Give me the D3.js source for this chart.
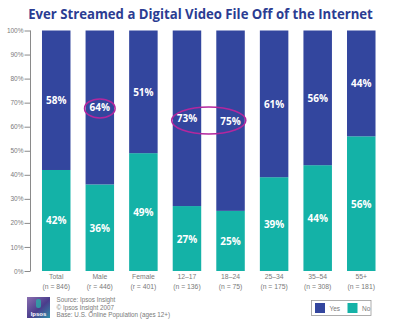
<!DOCTYPE html>
<html><head><meta charset="utf-8">
<script src="https://cdn.jsdelivr.net/npm/d3@7"></script>
<style>
html,body{margin:0;padding:0;background:#fff;}
svg{display:block;}
</style></head>
<body>
<svg id="chart" width="400" height="326"></svg>
<script>
const categories = ["Total","Male","Female","12\u201317","18\u201324","25\u201334","35\u201354","55+"];
const sampleSizes = ["(n = 846)","(r = 446)","(r = 401)","(n = 136)","(n = 75)","(n = 175)","(n = 308)","(n = 181)"];
const yesValues = [58,64,51,73,75,61,56,44];
const noValues  = [42,36,49,27,25,39,44,56];
const yTicks = [0,10,20,30,40,50,60,70,80,90,100];
const highlighted = [["Male"],["12\u201317","18\u201324"]];
const sourceLines = ["Source: Ipsos Insight","\u00a9 Ipsos Insight 2007","Base: U.S. Online Population (ages 12+)"];

const blue = "#33469e", teal = "#14b2a7", magenta = "#b3279e", gray = "#7a7a7a";
const svg = d3.select("#chart");

const x = d3.scaleBand().domain(categories).range([27, 390.5]).paddingInner(0.346).paddingOuter(0.344);
const y = d3.scaleLinear().domain([0,100]).range([271, 30.5]);

const title = svg.append("text").attr("text-anchor","middle")
  .attr("font-family","Open Sans, sans-serif").attr("font-weight","bold").attr("font-size",14.5)
  .attr("fill","#2b3c92")
  .text("Ever Streamed a Digital Video File Off of the Internet");
const tl = title.node().getComputedTextLength();
const sx = Math.min(1, 345 / tl);
title.attr("transform",`translate(200.5,18.5) scale(${sx},1)`);

// axis
const yAxis = d3.axisLeft(y).tickValues(yTicks).tickSize(6).tickPadding(2).tickFormat(d=>d+"%");
const ag = svg.append("g").attr("transform","translate(27.5,0)").call(yAxis);
ag.select(".domain").attr("d",`M3,${y(100)}V${y(0)}`).attr("stroke","#8a8a8a");
ag.selectAll(".tick line").attr("x1",-3).attr("x2",3).attr("stroke","#8a8a8a");
ag.selectAll(".tick text").attr("font-family","Liberation Sans, Arial, sans-serif").attr("font-size",6.5).attr("fill",gray).attr("x",-4);

const data = categories.map((c,i)=>({c, yes:yesValues[i], no:noValues[i], n:sampleSizes[i]}));

// bars
const g = svg.append("g");
g.selectAll("rect.no").data(data).join("rect").attr("class","no")
  .attr("x",d=>x(d.c)).attr("width",x.bandwidth())
  .attr("y",d=>y(d.no)).attr("height",d=>y(0)-y(d.no)).attr("fill",teal);
g.selectAll("rect.yes").data(data).join("rect").attr("class","yes")
  .attr("x",d=>x(d.c)).attr("width",x.bandwidth())
  .attr("y",y(100)).attr("height",d=>y(d.no)-y(100)).attr("fill",blue);

const lab = (sel)=>sel.attr("text-anchor","middle").attr("dominant-baseline","central")
  .attr("font-family","Open Sans, sans-serif").attr("font-weight","bold").attr("font-size",10).attr("fill","#fff");
g.selectAll("text.yes").data(data).join("text").attr("class","yes").call(lab)
  .attr("x",d=>x(d.c)+x.bandwidth()/2).attr("y",d=>(y(100)+y(d.no))/2).text(d=>d.yes+"%");
g.selectAll("text.no").data(data).join("text").attr("class","no").call(lab)
  .attr("x",d=>x(d.c)+x.bandwidth()/2).attr("y",d=>(y(d.no)+y(0))/2).text(d=>d.no+"%");

// highlight ellipses
highlighted.forEach(group=>{
  const ds = data.filter(d=>group.includes(d.c));
  const x0 = x(ds[0].c)-1, x1 = x(ds[ds.length-1].c)+x.bandwidth()+1;
  const cys = ds.map(d=>(y(100)+y(d.no))/2);
  const cy = d3.mean(cys)+1;
  const ry = group.length>1 ? 13.5 : 9.5;
  svg.append("ellipse").attr("cx",(x0+x1)/2).attr("cy",cy).attr("rx",(x1-x0)/2).attr("ry",ry)
    .attr("fill","none").attr("stroke",magenta).attr("stroke-width",1.6);
});

// category labels
const cl = svg.append("g");
data.forEach(d=>{
  const t = cl.append("text").attr("x",x(d.c)+x.bandwidth()/2).attr("text-anchor","middle")
    .attr("font-family","Liberation Sans, Arial, sans-serif").attr("font-size",6.8).attr("fill",gray);
  t.append("tspan").attr("x",x(d.c)+x.bandwidth()/2).attr("y",279).text(d.c);
  t.append("tspan").attr("x",x(d.c)+x.bandwidth()/2).attr("y",288.5).text(d.n);
});

// logo
const defs = svg.append("defs");
const lg = defs.append("linearGradient").attr("id","lg").attr("x1",0).attr("y1",0).attr("x2",1).attr("y2",1);
lg.append("stop").attr("offset","0%").attr("stop-color","#8a6fb0");
lg.append("stop").attr("offset","55%").attr("stop-color","#4a3d8c");
lg.append("stop").attr("offset","100%").attr("stop-color","#2f8fa8");
svg.append("rect").attr("x",27).attr("y",297).attr("width",23).attr("height",21).attr("fill","url(#lg)");
svg.append("rect").attr("x",36).attr("y",299).attr("width",5).attr("height",9).attr("rx",2).attr("fill","#2aa9a8").attr("opacity",0.8);
svg.append("text").attr("x",38.5).attr("y",316).attr("text-anchor","middle").attr("font-family","Liberation Sans, Arial, sans-serif")
  .attr("font-size",6).attr("font-weight","bold").attr("fill","#fff").text("Ipsos");

sourceLines.forEach((s,i)=>{
  svg.append("text").attr("x",56.5).attr("y",302+i*7.5).attr("font-family","Liberation Sans, Arial, sans-serif")
    .attr("font-size",6.3).attr("fill",gray).text(s);
});

// legend
const leg = svg.append("g");
leg.append("rect").attr("x",311.5).attr("y",300.5).attr("width",59.5).attr("height",15).attr("fill","#fff").attr("stroke","#999").attr("stroke-width",0.8);
[["Yes",blue,315],["No",teal,347.5]].forEach(([t,c,lx])=>{
  leg.append("rect").attr("x",lx).attr("y",303).attr("width",10).attr("height",10).attr("fill",c);
  leg.append("text").attr("x",lx+14.5).attr("y",311).attr("font-family","Liberation Sans, Arial, sans-serif")
    .attr("font-size",6.5).attr("fill",gray).text(t);
});
</script>
</body></html>
